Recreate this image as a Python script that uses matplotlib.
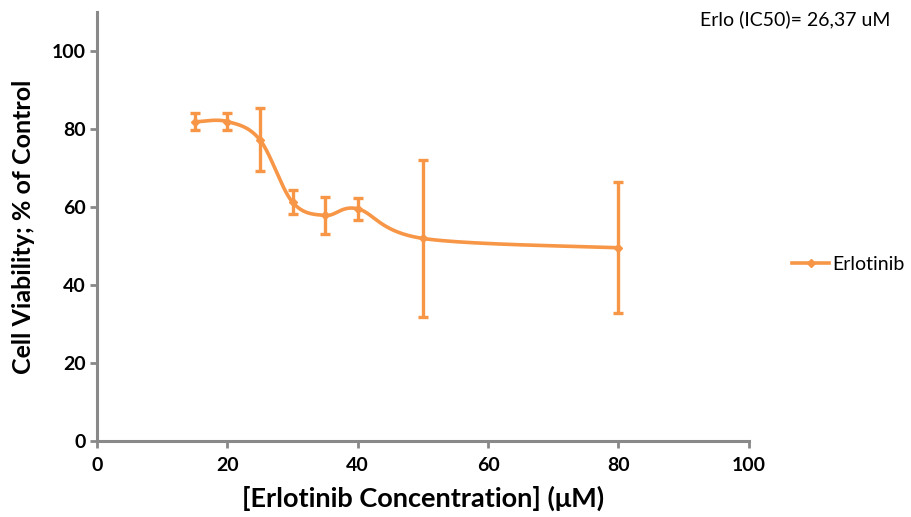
import numpy as np
import matplotlib
matplotlib.use("Agg")
import matplotlib.pyplot as plt
from matplotlib.lines import Line2D

plt.rcParams['font.family'] = ['Lato', 'DejaVu Sans']

# Erlotinib dose-response data
concentration = [15, 20, 25, 30, 35, 40, 50, 80]
viability = [81.8, 81.9, 77.2, 61.2, 57.8, 59.5, 51.9, 49.5]
error = [2.2, 2.3, 8.1, 3.0, 4.8, 2.8, 20.2, 16.8]

x_ticks = [0, 20, 40, 60, 80, 100]
y_ticks = [0, 20, 40, 60, 80, 100]
series_name = "Erlotinib"
ic50_note = "Erlo (IC50)= 26,37 uM"

ORANGE = "#F79646"
AXIS_GRAY = "#898989"

fig = plt.figure(figsize=(9.12, 5.17), dpi=100)
ax = fig.add_axes([97 / 912, 1 - 440.7 / 517, (748.7 - 97) / 912, (440.7 - 12) / 517])
ax.set_xlim(0, 100)
ax.set_ylim(0, 110)


def smooth_curve(xs, ys, n=40):
    """Catmull-Rom style Bezier smoothing (spreadsheet 'smoothed line')."""
    # work in screen-proportional space so the curve shape follows the aspect
    sx, sy = 652.0, 428.7 / 110 * 100
    px = np.asarray(xs, float) / 100 * sx
    py = np.asarray(ys, float) / 100 * sy
    pts = np.column_stack([px, py])
    out = []
    for i in range(len(pts) - 1):
        p0 = pts[i - 1] if i > 0 else pts[i]
        p1 = pts[i]
        p2 = pts[i + 1]
        p3 = pts[i + 2] if i + 2 < len(pts) else pts[i + 1]
        c1 = p1 + (p2 - p0) / 6
        c2 = p2 - (p3 - p1) / 6
        t = np.linspace(0, 1, n)[:, None]
        seg = ((1 - t) ** 3) * p1 + 3 * ((1 - t) ** 2) * t * c1 + 3 * (1 - t) * t ** 2 * c2 + t ** 3 * p2
        out.append(seg if i == 0 else seg[1:])
    out = np.vstack(out)
    return out[:, 0] / sx * 100, out[:, 1] / sy * 100


cx, cy = smooth_curve(concentration, viability)
ax.plot(cx, cy, color=ORANGE, lw=2.6, solid_capstyle='round', zorder=3)
ax.errorbar(concentration, viability, yerr=error, fmt='D', color=ORANGE,
            ms=4.5, ecolor=ORANGE, elinewidth=2.4, capsize=3.5, capthick=2.4,
            zorder=4)

for s in ['top', 'right']:
    ax.spines[s].set_visible(False)
for s in ['left', 'bottom']:
    ax.spines[s].set_color(AXIS_GRAY)
    ax.spines[s].set_linewidth(2.2)

ax.set_xticks(x_ticks)
ax.set_yticks(y_ticks)
ax.tick_params(axis='both', colors=AXIS_GRAY, width=2.0, length=5, direction='out',
               labelcolor='black', labelsize=14)
ax.tick_params(axis='x', pad=7)
ax.tick_params(axis='y', pad=3)
for lab in ax.get_xticklabels() + ax.get_yticklabels():
    lab.set_fontweight('bold')

ax.set_xlabel("[Erlotinib Concentration] (μM)", fontsize=19.5, fontweight='bold', labelpad=8)
ax.set_ylabel("Cell Viability; % of Control", fontsize=18, fontweight='bold', labelpad=12)

# legend on the right
handle = Line2D([], [], color=ORANGE, lw=2.6, marker='D', ms=4.5)
fig.legend([handle], [series_name], loc='center left',
           bbox_to_anchor=(775 / 912, 1 - 264 / 517), frameon=False,
           fontsize=14, handlelength=1.9, handletextpad=0.15)

fig.text(795 / 912, 1 - 19 / 517, ic50_note, fontsize=14, ha='center', va='center')

fig.savefig("out.png", dpi=100)
